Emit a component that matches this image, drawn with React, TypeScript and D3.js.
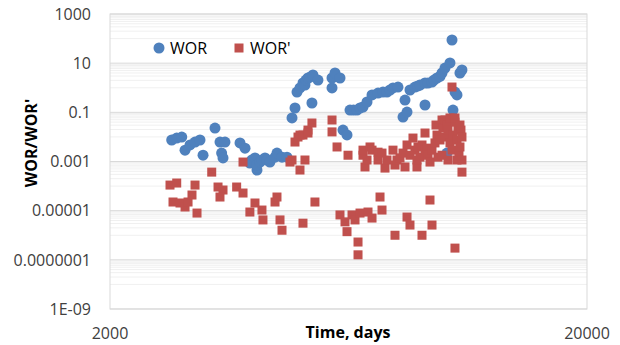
import React from 'react';
import { scaleLog } from 'd3';

// time (days), WOR
const worTime = [
  2694, 2760, 2828, 2873, 2943, 3015, 3088, 3134, 3320, 3401, 3484, 3428, 3451, 3746, 3838,
  3929, 3967, 4027, 4066, 4066, 4125, 4165, 4227, 4268, 4328, 4436, 4478, 4588, 4700,
  4815, 4885, 4932, 5004, 5077, 5126, 5151, 5201, 5252, 5327, 5458, 5301, 5841, 5841, 5926, 6070,
  6159, 6279, 6371, 6480, 6590, 6686, 6783, 6916, 7085, 7294, 7470, 7616, 7727, 7840, 8031,
  8228, 8389, 8308, 8510, 8717, 8845, 8931, 9150, 9150, 9284, 9464, 9556, 9695, 9836, 9933,
  10076, 10322, 10423, 10574, 10473, 10677, 10832, 10937, 10174,
];
const worValue = [
  0.0075, 0.009, 0.0099, 0.0029, 0.0047, 0.0062, 0.0075, 0.0018, 0.023, 0.0062, 0.0062, 0.0022, 0.0014, 0.0057, 0.0035,
  0.00087, 0.00115, 0.0014, 0.00045, 0.00072, 0.00095, 0.00115, 0.0014, 0.00115, 0.00095, 0.0015, 0.0022, 0.0015, 0.0015,
  0.059, 0.15, 0.67, 0.98, 1.56, 1.29, 2.06, 2.49, 2.7, 3.3, 2.06, 0.24, 0.98, 2.49, 3.98, 2.49,
  0.019, 0.012, 0.124, 0.124, 0.124, 0.15, 0.165, 0.263, 0.51, 0.61, 0.67, 0.67, 0.81, 0.98, 1.07,
  0.0645, 0.103, 0.317, 0.81, 1.07, 1.18, 1.29, 1.56, 0.199, 1.56, 1.71, 2.06, 2.49, 2.9, 3.98,
  6.35, 10.2, 87.5, 0.67, 0.124, 0.51, 3.98, 5.27, 0.0022,
];

// time (days), WOR'
const worPrimeTime = [
  3268, 3801, 4815, 4768, 4885, 4956, 5004, 5077, 5201, 5201, 5301, 5004, 5126, 5841, 5841, 5984,
  6310, 6783, 6783, 6849, 6916, 7017, 7085, 7294, 7294, 7435, 7543, 7616, 7840, 7916, 7993, 8110, 8228,
  8308, 8389, 8510, 8634, 8717, 8802, 8802, 8845, 8931, 9018, 9150, 9150, 9239, 9284, 9373, 9464, 9601, 9648, 9695,
  9742, 9836, 9933, 9933, 9980, 10076, 10076, 10174, 10224, 10224, 10322, 10322, 10423, 10423, 10473, 10574, 10574,
  10677, 10677, 10728, 10780, 10832, 10832, 10884, 10937, 10937, 10937,
  2672, 2760, 2711, 2804, 2873, 2915, 2971, 3015, 3044, 3369, 3451, 3401, 3686, 3801, 4027, 3929,
  4165, 4185, 4436, 4478, 4544, 4588, 5077, 5379, 6070, 6219, 6279, 6433, 6527, 6686, 6622, 6622,
  6949, 7085, 7364, 7435, 7916, 8389, 8510, 9018, 9373, 9464, 10574,
];
const worPrimeValue = [
  0.00037, 0.00095, 0.00115, 0.00095, 0.0062, 0.0099, 0.0119, 0.0119, 0.019, 0.0144, 0.0368, 0.00045, 0.00115, 0.0487, 0.016, 0.0039,
  0.0018, 0.0018, 0.0029, 0.0006, 0.00115, 0.0039, 0.0029, 0.0024, 0.00115, 0.0022, 0.00054, 0.00115, 0.0029, 0.00072, 0.00115, 0.0014, 0.0022,
  0.0006, 0.0047, 0.0018, 0.009, 0.0029, 0.0006, 0.00115, 0.0039, 0.0015, 0.0047, 0.0144, 0.0029, 0.0035, 0.0018, 0.00095, 0.0029, 0.0057, 0.0305, 0.0119,
  0.0015, 0.0075, 0.0487, 0.0018, 0.023, 0.0099, 0.0487, 0.0305, 0.019, 0.00115, 0.059, 0.0057, 1.07, 0.0029, 0.0119, 0.04, 0.059,
  0.00115, 0.0075, 0.019, 0.0024, 0.0039, 0.0305, 0.019, 0.00037, 0.0099, 0.00115,
  0.00011, 0.000133, 0.0000225, 0.0000205, 0.0000141, 0.0000225, 0.0000433, 0.00011, 0.000008, 0.0000916, 0.0000692, 0.0000359, 0.0000916, 0.0000522, 0.0000205, 0.0000088,
  0.0000106, 0.0000042, 0.0000225, 0.0000359, 0.0000042, 0.0000016, 0.0000031, 0.0000225, 0.0000067, 0.0000035, 0.0000014, 0.0000067, 0.0000042, 0.000008, 0.00000053, 0.00000016,
  0.0000088, 0.000005, 0.0000359, 0.0000106, 0.000001, 0.0000055, 0.0000026, 0.000001, 0.0000271, 0.0000026, 0.0000003,
];

const yTicks = [1000, 10, 0.1, 0.001, 0.00001, 0.0000001, 1e-9];
const yTickLabels = ['1000', '10', '0.1', '0.001', '0.00001', '0.0000001', '1E-09'];
const xTicks = [2000, 20000];
const xTickLabels = ['2000', '20000'];

const W = 620;
const H = 345;
const left = 110, right = 587, top = 14, bottom = 309;
const font = '"Open Sans", sans-serif';
const blue = '#4f81bd';
const red = '#c0504d';

export default function App() {
  const x = scaleLog().domain([2000, 20000]).range([left, right]);
  const y = scaleLog().domain([1e-9, 1000]).range([bottom, top]);

  // minor gridlines: 1..9 x 10^e for the even exponents inside each major step
  const minor: number[] = [];
  for (let e = -8; e <= 2; e += 2) {
    for (let n = 1; n <= 9; n++) minor.push(n * Math.pow(10, e));
  }

  return (
    <div style={{ position: 'absolute', left: 0, top: 0 }}>
      <svg width={W} height={H} style={{ display: 'block', background: '#fff' }}>
        {minor.map((v, i) => (
          <line key={'m' + i} x1={left} x2={right} y1={y(v)} y2={y(v)} stroke="#f0f0f0" strokeWidth={1} />
        ))}
        {yTicks.map((v, i) => (
          <line key={'g' + i} x1={left} x2={right} y1={y(v)} y2={y(v)} stroke="#d9d9d9" strokeWidth={1} />
        ))}
        <rect x={left} y={top} width={right - left} height={bottom - top} fill="none" stroke="#d9d9d9" />

        {yTicks.map((v, i) => (
          <text key={'yl' + i} x={91} y={y(v)} dy="0.36em" textAnchor="end" fontFamily={font} fontSize={16} fill="#404040">
            {yTickLabels[i]}
          </text>
        ))}
        {xTicks.map((v, i) => (
          <text key={'xl' + i} x={x(v)} y={339} textAnchor="middle" fontFamily={font} fontSize={16} fill="#404040">
            {xTickLabels[i]}
          </text>
        ))}

        <text x={348} y={338} textAnchor="middle" fontFamily={font} fontSize={16} fontWeight="bold" fill="#000">
          Time, days
        </text>
        <text
          transform="translate(31,143) rotate(-90)"
          dy="0.36em"
          textAnchor="middle"
          fontFamily={font}
          fontSize={16}
          fontWeight="bold"
          fill="#000"
        >
          WOR/WOR'
        </text>

        {worTime.map((t, i) => (
          <circle key={'b' + i} cx={x(t)} cy={y(worValue[i])} r={5.5} fill={blue} />
        ))}
        {worPrimeTime.map((t, i) => (
          <rect key={'r' + i} x={x(t) - 4.5} y={y(worPrimeValue[i]) - 4.5} width={9} height={9} fill={red} />
        ))}

        <circle cx={159} cy={48} r={5.5} fill={blue} />
        <text x={170} y={54} fontFamily={font} fontSize={16} fill="#000">WOR</text>
        <rect x={234.5} y={43.5} width={9} height={9} fill={red} />
        <text x={250} y={54} fontFamily={font} fontSize={16} fill="#000">WOR'</text>
      </svg>
    </div>
  );
}
